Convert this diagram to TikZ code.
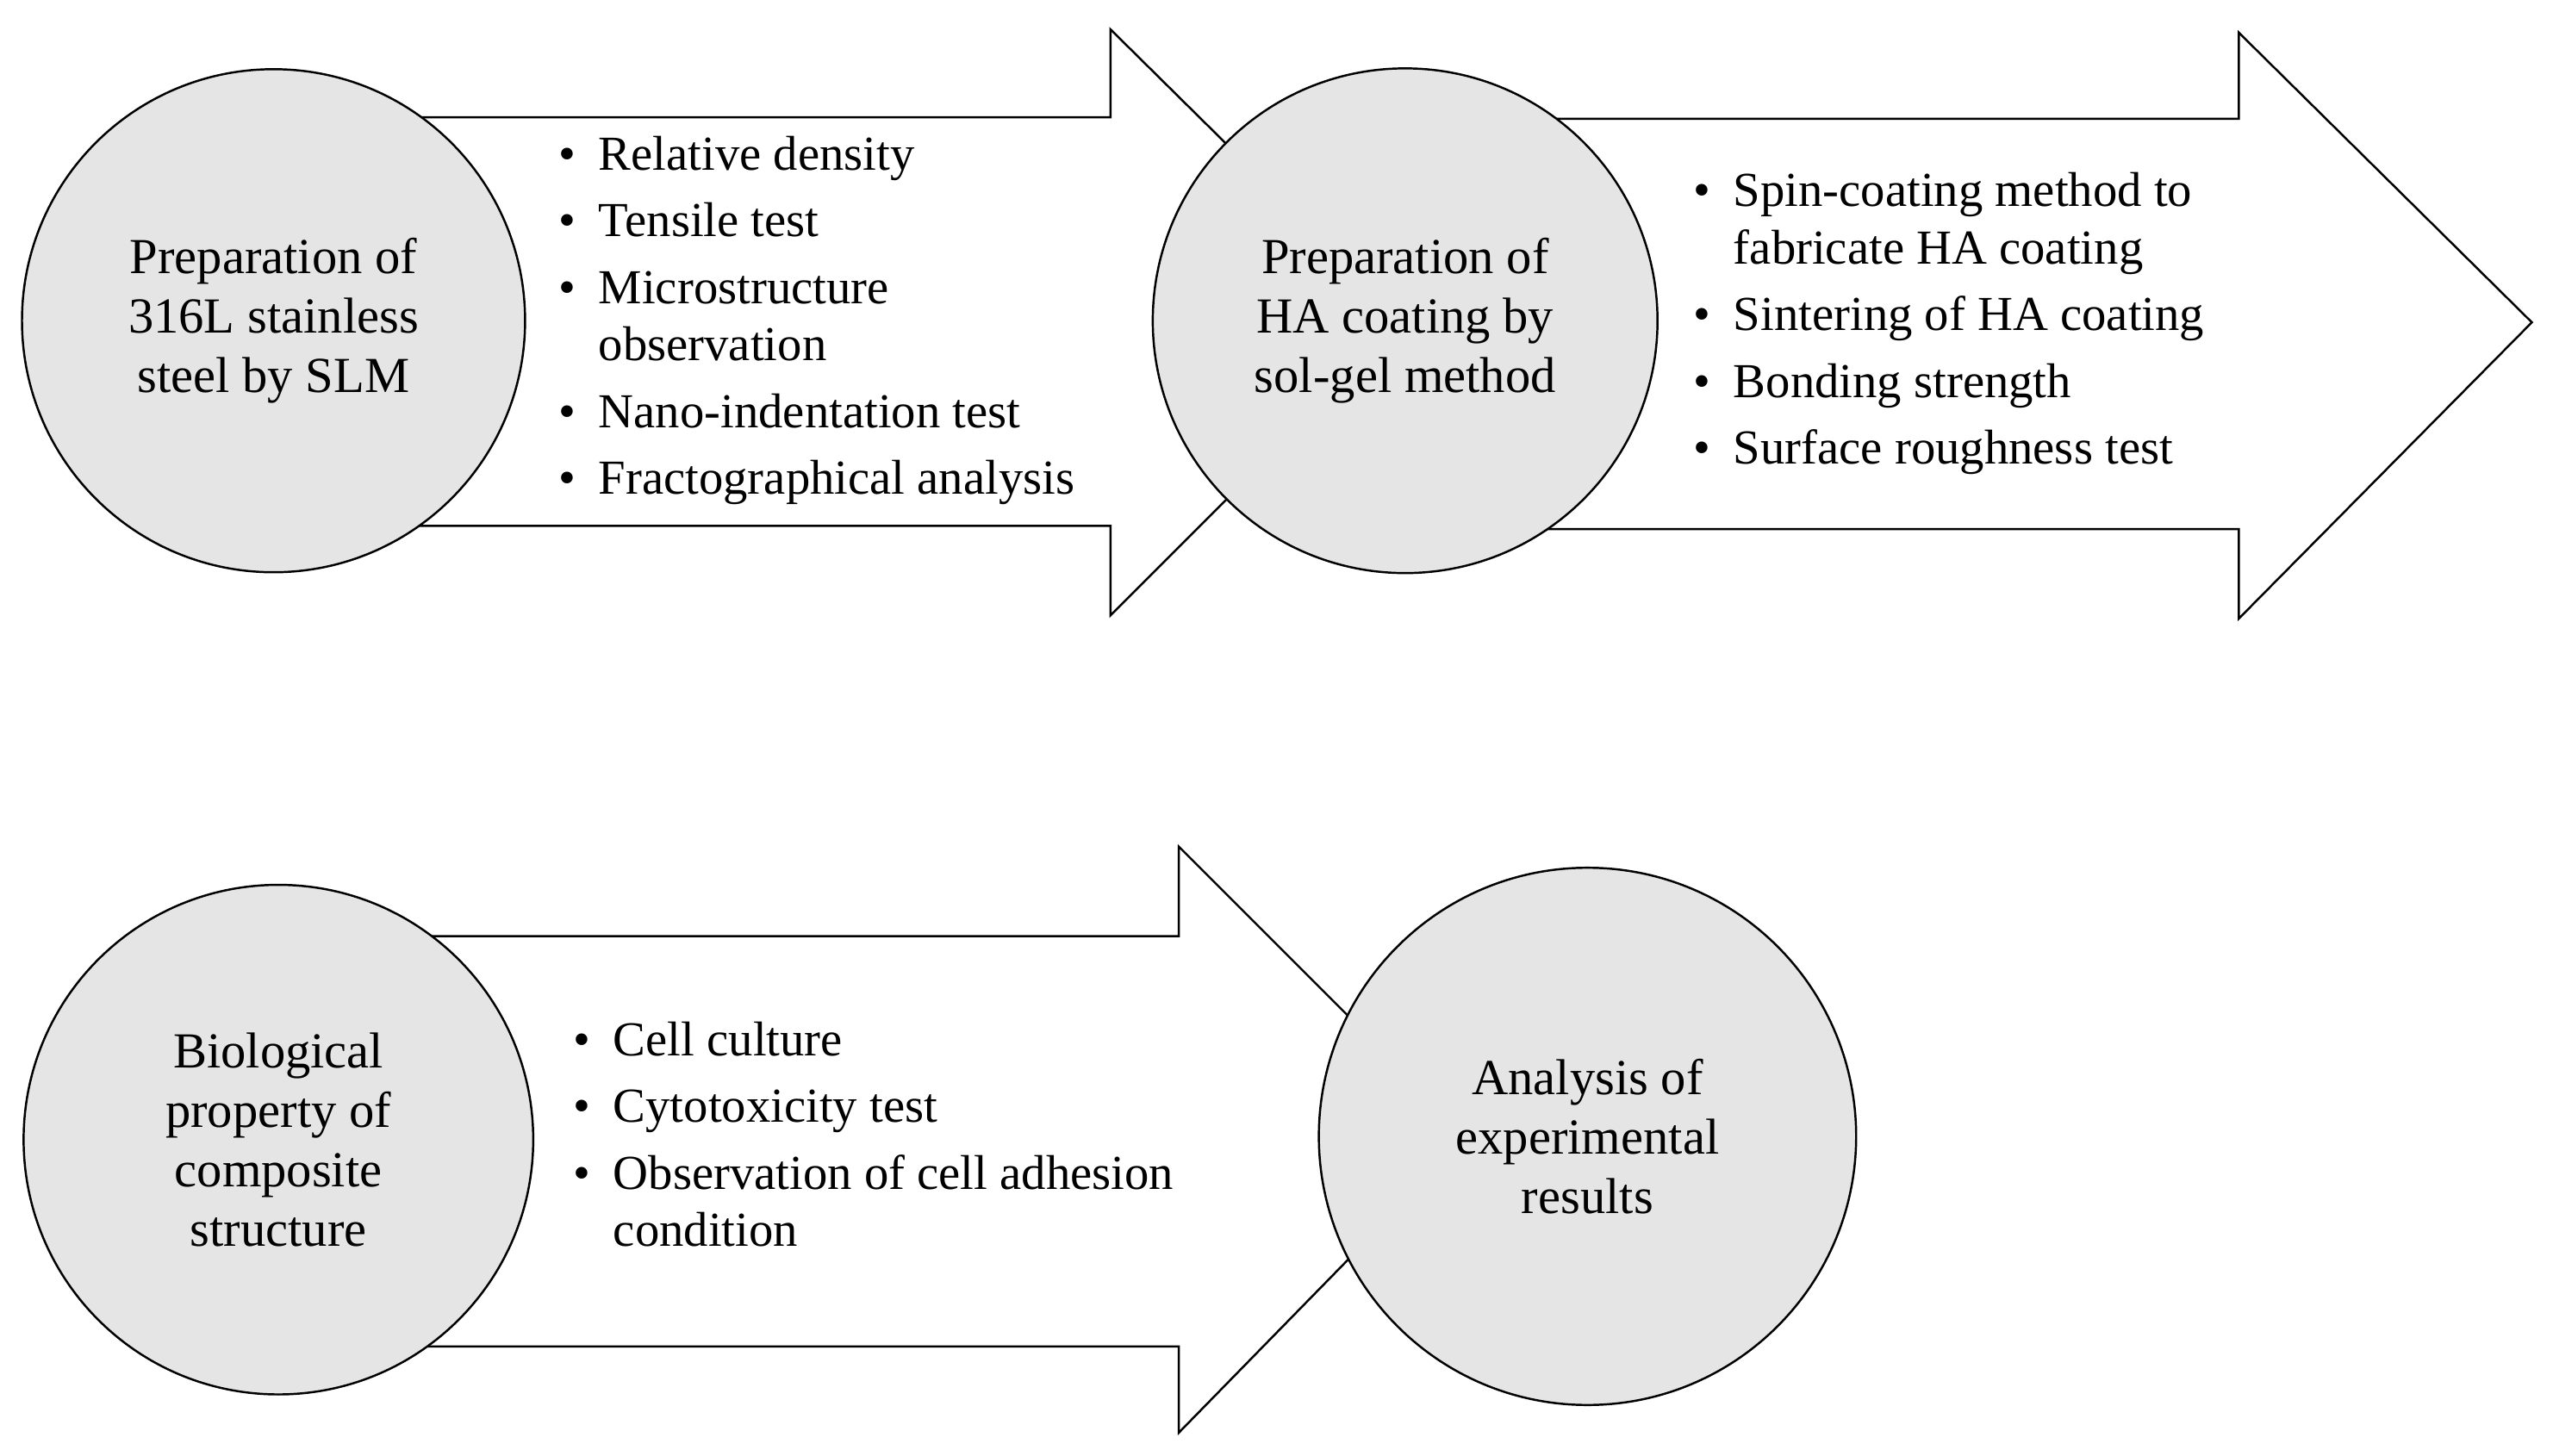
\documentclass[tikz,border=0pt]{standalone}
\usepackage{fontspec}
\setmainfont{Liberation Serif}
\begin{document}
\begin{tikzpicture}[x=1pt,y=-1pt,
  arr/.style={draw=black,line width=1.3pt,fill=white,line join=miter},
  circ/.style={circle,draw=black,line width=1.3pt,fill=black!10,align=center,inner sep=0pt,
    font=\fontsize{31}{36.5}\selectfont},
  lst/.style={align=left,inner sep=0pt,font=\fontsize{30}{35}\selectfont}]
\useasboundingbox (0,0) rectangle (1568,894);
% arrows
\draw[arr] (250,72) -- (682,72) -- (682,18) -- (863,197) -- (682,378) -- (682,323) -- (250,323) -- cycle;
\draw[arr] (950,73) -- (1375,73) -- (1375,20) -- (1555,198) -- (1375,380) -- (1375,325) -- (950,325) -- cycle;
\draw[arr] (250,575) -- (724,575) -- (724,520) -- (902,698) -- (724,880) -- (724,827) -- (250,827) -- cycle;
% circles
\node[circ,minimum size=309pt] (c1) at (168,197) {Preparation of\\316L stainless\\steel by SLM};
\node[circ,minimum size=310pt] (c2) at (863,197) {Preparation of\\HA coating by\\sol-gel method};
\node[circ,minimum size=313pt] (c3) at (171,700) {Biological\\property of\\composite\\structure};
\node[circ,minimum size=330pt] (c4) at (975,698) {Analysis of\\experimental\\results};
% lists
\node[lst,anchor=west] (l1) at (343,197) {\begin{tabular}{@{}l@{\hspace{14pt}}l@{}}
\textbullet & Relative density\\[6pt]
\textbullet & Tensile test\\[6pt]
\textbullet & Microstructure\\
 & observation\\[6pt]
\textbullet & Nano-indentation test\\[6pt]
\textbullet & Fractographical analysis
\end{tabular}};
\node[lst,anchor=west] (l2) at (1040,199) {\begin{tabular}{@{}l@{\hspace{14pt}}l@{}}
\textbullet & Spin-coating method to\\
 & fabricate HA coating\\[6pt]
\textbullet & Sintering of HA coating\\[6pt]
\textbullet & Bonding strength\\[6pt]
\textbullet & Surface roughness test
\end{tabular}};
\node[lst,anchor=west] (l3) at (352,700) {\begin{tabular}{@{}l@{\hspace{14pt}}l@{}}
\textbullet & Cell culture\\[6pt]
\textbullet & Cytotoxicity test\\[6pt]
\textbullet & Observation of cell adhesion\\
 & condition
\end{tabular}};
\end{tikzpicture}
\end{document}
